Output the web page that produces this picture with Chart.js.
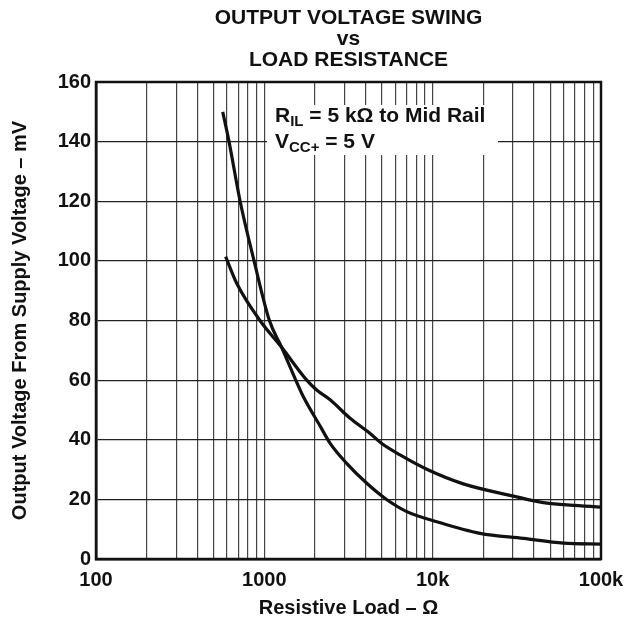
<!DOCTYPE html>
<html>
<head>
<meta charset="utf-8">
<script src="https://cdn.jsdelivr.net/npm/chart.js@4.4.0/dist/chart.umd.min.js"></script>
<style>
html, body { margin: 0; padding: 0; background: #fff; }
#wrap { width: 639px; height: 625px; }
</style>
</head>
<body>
<div id="wrap"><canvas id="swing"></canvas></div>
<script>
/*
 * Values
 */

// curve that starts near 150 mV and falls steeply
let steepOhms = [566, 617, 718, 869, 1072, 1267, 1521, 1703, 2155, 2460, 3083, 4061, 5200, 7018, 10600, 19100, 34600, 59800, 100000]
let steepMv = [150, 140, 120, 100, 80, 71, 60.6, 54.5, 44.4, 38.8, 32.1, 25.4, 20.4, 15.9, 12.5, 8.6, 6.9, 5.3, 5.0]

// curve that starts near 100 mV and flattens out around 17 mV
let flatOhms = [589, 685, 942, 1267, 1786, 2046, 2460, 3232, 4230, 4960, 6400, 9226, 15200, 30200, 45500, 65500, 100000]
let flatMv = [101.4, 92.5, 80, 71, 60, 56.7, 53.4, 47.2, 42.2, 38.8, 34.9, 30.1, 25.2, 21.1, 18.9, 18.1, 17.4]

let titleLines = ['OUTPUT VOLTAGE SWING', 'vs', 'LOAD RESISTANCE']
let xDecades = [100, 1000, 10000, 100000]
let xDecadeLabels = ['100', '1000', '10k', '100k']
let xTitle = 'Resistive Load \u2013 \u03A9'
let yTitle = 'Output Voltage From Supply Voltage \u2013 mV'
let noteLine1 = ['R', 'IL', ' = 5 k\u03A9 to Mid Rail']
let noteLine2 = ['V', 'CC+', ' = 5 V']

const FONT = '"Liberation Sans", Arial, Helvetica, sans-serif'

function toPoints(xs, ys) {
    return xs.map((x, i) => ({ x: x, y: ys[i] }))
}

/*
 * White note box and the outer frame
 */

function drawSub(ctx, parts, x, y) {
    ctx.font = 'bold 21px ' + FONT
    ctx.fillText(parts[0], x, y)
    x += ctx.measureText(parts[0]).width
    ctx.font = 'bold 15px ' + FONT
    ctx.fillText(parts[1], x, y + 4)
    x += ctx.measureText(parts[1]).width
    ctx.font = 'bold 21px ' + FONT
    ctx.fillText(parts[2], x, y)
}

const notePlugin = {
    id: 'notePlugin',
    afterDatasetsDraw(chart) {
        const ctx = chart.ctx
        const a = chart.chartArea
        ctx.save()
        ctx.fillStyle = '#fff'
        ctx.fillRect(a.left + 171, a.top + 23, 231, 50)
        ctx.fillStyle = '#111'
        ctx.textBaseline = 'alphabetic'
        ctx.textAlign = 'left'
        drawSub(ctx, noteLine1, a.left + 179, a.top + 40)
        drawSub(ctx, noteLine2, a.left + 179, a.top + 66)

        ctx.lineWidth = 2.5
        ctx.strokeStyle = '#111'
        ctx.strokeRect(a.left, a.top, a.right - a.left, a.bottom - a.top)
        ctx.restore()
    }
}

/*
 * Chart
 */

let swingConfig = {
    type: 'line',
    data: {
        datasets: [
            { data: toPoints(steepOhms, steepMv) },
            { data: toPoints(flatOhms, flatMv) }
        ]
    },
    options: {
        responsive: false,
        animation: false,
        events: [],
        layout: { padding: { left: 0, right: 38, top: 0, bottom: 0 } },
        elements: {
            point: { radius: 0 },
            line: { borderColor: '#111', borderWidth: 3.2, cubicInterpolationMode: 'monotone', fill: false }
        },
        plugins: {
            legend: { display: false },
            tooltip: { enabled: false },
            title: {
                display: true,
                fullSize: false,
                text: titleLines,
                color: '#111',
                font: { family: FONT, size: 21, weight: 'bold', lineHeight: 1.0 },
                padding: { top: 8, bottom: 11 }
            }
        },
        scales: {
            x: {
                type: 'logarithmic',
                min: 100,
                max: 100000,
                afterFit: function (scale) { scale.height = 66 },
                afterBuildTicks: function (scale) {
                    let ticks = []
                    xDecades.forEach(function (d, i) {
                        for (let m = 1; m <= 9; m++) {
                            if (i == xDecades.length - 1 && m > 1) break
                            ticks.push({ value: d * m })
                        }
                    })
                    scale.ticks = ticks
                },
                grid: { color: '#444', lineWidth: 1.2, drawTicks: false },
                border: { color: '#111', width: 2.5 },
                ticks: {
                    autoSkip: false,
                    maxRotation: 0,
                    padding: 9,
                    color: '#111',
                    font: { family: FONT, size: 20, weight: 'bold' },
                    callback: function (value) {
                        let i = xDecades.indexOf(value)
                        return i >= 0 ? xDecadeLabels[i] : ''
                    }
                },
                title: {
                    display: true,
                    text: xTitle,
                    color: '#111',
                    font: { family: FONT, size: 20, weight: 'bold' },
                    padding: { top: 0, bottom: 5 }
                }
            },
            y: {
                min: 0,
                max: 160,
                afterFit: function (scale) { scale.width = 96 },
                grid: { color: '#222', lineWidth: 1.2, drawTicks: false },
                border: { color: '#111', width: 2.5 },
                ticks: {
                    stepSize: 20,
                    padding: 5,
                    color: '#111',
                    font: { family: FONT, size: 20, weight: 'bold' }
                },
                title: {
                    display: true,
                    text: yTitle,
                    color: '#111',
                    font: { family: FONT, size: 20, weight: 'bold' },
                    padding: { top: 8, bottom: 0 }
                }
            }
        }
    },
    plugins: [notePlugin]
}

var swingCanvas = document.getElementById('swing')
swingCanvas.width = 639
swingCanvas.height = 625

var swingChart = new Chart(swingCanvas, swingConfig)
</script>
</body>
</html>
